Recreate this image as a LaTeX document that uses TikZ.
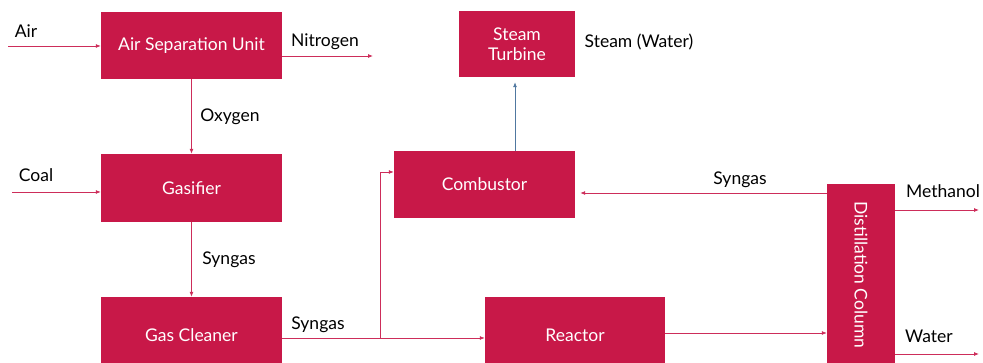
\documentclass[tikz,border=0pt]{standalone}
\usepackage{fontspec}
\setmainfont{Lato}
\usetikzlibrary{arrows.meta}
\definecolor{unitred}{RGB}{200,24,72}
\definecolor{flowred}{RGB}{205,45,90}
\definecolor{steamblue}{RGB}{80,120,160}
\tikzset{
  unit/.style={rectangle, fill=unitred, text=white, align=center, inner sep=0pt, font=\fontsize{17.5}{20}\selectfont},
  flow/.style={-{Latex[length=5pt,width=4pt]}, draw=flowred, line width=0.8pt},
  lbl/.style={text=black, font=\fontsize{17.5}{20}\selectfont, inner sep=0pt}
}
\begin{document}
\begin{tikzpicture}[x=1pt, y=-1pt]
        \useasboundingbox (0,0) rectangle (983,363);

        % Unita di processo
        \node[unit, minimum width=181pt, minimum height=67pt] (asu) at (191.5,45.5) {Air Separation Unit};
        \node[unit, minimum width=181pt, minimum height=68pt] (gasifier) at (191.5,188) {Gasifier};
        \node[unit, minimum width=181pt, minimum height=76pt] (cleaner) at (191.5,335) {Gas Cleaner};
        \node[unit, minimum width=116pt, minimum height=66pt] (turbine) at (517,44) {Steam\\Turbine};
        \node[unit, minimum width=181pt, minimum height=67pt] (combustor) at (484.5,184.5) {Combustor};
        \node[unit, minimum width=180pt, minimum height=76pt] (reactor) at (575,335) {Reactor};
        \node[unit, minimum width=68pt, minimum height=190pt] (column) at (861,279) {};
        \node[unit, rotate=-90] at (861,275) {Distillation Column};

        % Estremi liberi
        \coordinate (airin) at (8,46);
        \coordinate (n2out) at (373,56);
        \coordinate (coalin) at (12,192);
        \coordinate (split) at (380,338);
        \coordinate (meout) at (979,210);
        \coordinate (h2oout) at (979,354);

        % Correnti principali
        \draw[flow] (airin) -- (asu.west |- airin);
        \draw[flow] (asu.east |- n2out) -- (n2out);
        \draw[flow] (asu.south) -- (gasifier.north);
        \draw[flow] (coalin) -- (gasifier.west |- coalin);
        \draw[flow] (gasifier.south) -- (cleaner.north);
        \draw[flow] (cleaner.east |- split) -- (reactor.west |- split);
        \draw[flow] (split) |- ([yshift=12.5pt]combustor.west);
        \draw[flow] (reactor.east |- 0,333) -- (column.west |- 0,333);
        \draw[flow] (column.west |- 0,193) -- ([xshift=5pt]combustor.east |- 0,193);
        \draw[flow] (column.east |- meout) -- (meout);
        \draw[flow] (column.east |- h2oout) -- (h2oout);
        \draw[flow, draw=steamblue] (combustor.north -| 515,0) -- ([yshift=-5pt]turbine.south -| 515,0);

        % Etichette
        \node[lbl] (air) at (26,31) {Air};
        \node[lbl] (nitrogen) at (325,42) {Nitrogen};
        \node[lbl] (oxygen) at (230,117) {Oxygen};
        \node[lbl] (coal) at (36,175) {Coal};
        \node[lbl] (syngasA) at (229,260) {Syngas};
        \node[lbl] (syngasB) at (318,325) {Syngas};
        \node[lbl] (syngasC) at (740,180) {Syngas};
        \node[lbl] (steam) at (639,42) {Steam (Water)};
        \node[lbl] (methanol) at (943,191) {Methanol};
        \node[lbl] (water) at (929,336) {Water};

    \end{tikzpicture}
\end{document}
